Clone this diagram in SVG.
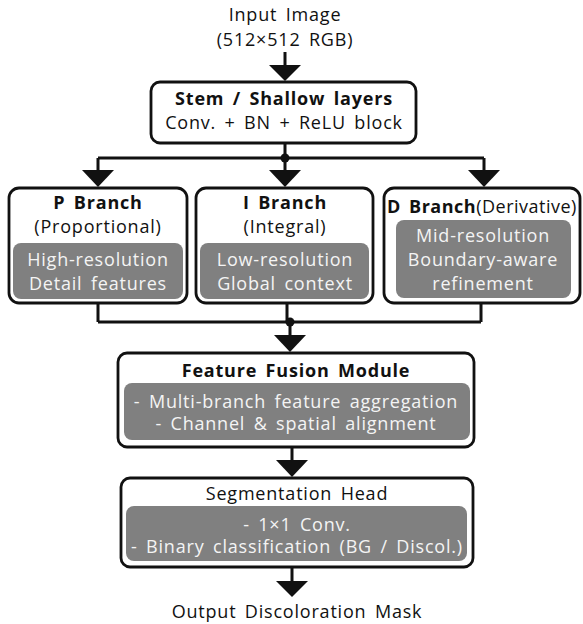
<svg xmlns="http://www.w3.org/2000/svg" width="583" height="624" viewBox="0 0 583 624">
<defs>
<style>
.t{font-family:"Open Sans","Noto Sans","Noto Sans CJK KR",sans-serif;font-size:18px;letter-spacing:0.8px;word-spacing:3px;fill:#111;text-anchor:middle}
.b{font-weight:bold}
.w{fill:#f4f4f4}
.box{fill:#fff;stroke:#111;stroke-width:2.8}
.gray{fill:#808080;stroke:none}
.ln{fill:none;stroke:#111;stroke-width:3}
.hd{fill:#111}
</style>
</defs>
<rect width="583" height="624" fill="#fff"/>
<g id="input">
<text class="t" x="285" y="21">Input Image</text>
<text class="t" x="285" y="46">(512×512 RGB)</text>
</g>
<g id="stem">
<rect class="box" x="151" y="82" width="265" height="61" rx="9"/>
<text class="t b" x="284" y="105">Stem / Shallow layers</text>
<text class="t" x="284" y="129">Conv. + BN + ReLU block</text>
</g>
<g id="pbranch">
<rect class="box" x="9" y="188" width="178" height="115" rx="10"/>
<text class="t b" x="98" y="209">P Branch</text>
<text class="t" x="98" y="233">(Proportional)</text>
<rect class="gray" x="13" y="243" width="170" height="56" rx="8"/>
<text class="t w" x="98" y="266">High-resolution</text>
<text class="t w" x="98" y="290">Detail features</text>
</g>
<g id="ibranch">
<rect class="box" x="196" y="188" width="177" height="115" rx="10"/>
<text class="t b" x="285" y="209">I Branch</text>
<text class="t" x="285" y="233">(Integral)</text>
<rect class="gray" x="200" y="243" width="169" height="56" rx="8"/>
<text class="t w" x="285" y="266">Low-resolution</text>
<text class="t w" x="285" y="290">Global context</text>
</g>
<g id="dbranch">
<rect class="box" x="384" y="188" width="196" height="115" rx="10"/>
<text class="t" x="482" y="213" style="letter-spacing:0.5px"><tspan class="b">D Branch</tspan>(Derivative)</text>
<rect class="gray" x="396" y="220" width="175" height="78" rx="8"/>
<text class="t w" x="483" y="242">Mid-resolution</text>
<text class="t w" x="483" y="266">Boundary-aware</text>
<text class="t w" x="483" y="290">refinement</text>
</g>
<g id="fusion">
<rect class="box" x="118" y="353" width="356" height="94" rx="9"/>
<text class="t b" x="296" y="377">Feature Fusion Module</text>
<rect class="gray" x="124" y="383" width="346" height="57" rx="8"/>
<text class="t w" x="296" y="408">- Multi-branch feature aggregation</text>
<text class="t w" x="296" y="430">- Channel &amp; spatial alignment</text>
</g>
<g id="seghead">
<rect class="box" x="121" y="478" width="352" height="89" rx="9"/>
<text class="t" x="297" y="500">Segmentation Head</text>
<rect class="gray" x="126" y="506" width="341" height="55" rx="8"/>
<text class="t w" x="297" y="531">- 1×1 Conv.</text>
<text class="t w" x="297" y="553">- Binary classification (BG / Discol.)</text>
</g>
<g id="output">
<text class="t" x="297" y="618">Output Discoloration Mask</text>
</g>
<g id="connectors">
<line class="ln" x1="285" y1="52" x2="285" y2="67"/>
<polygon class="hd" points="269,65 301,65 285,81"/>
<path class="ln" d="M285 143V158M98 158H484M98 158V172M285 158V172M484 158V172"/>
<circle class="hd" cx="285" cy="158" r="4.5"/>
<polygon class="hd" points="82,170 114,170 98,187"/>
<polygon class="hd" points="269,170 301,170 285,187"/>
<polygon class="hd" points="468,170 500,170 484,187"/>
<path class="ln" d="M98 303V322M287 303V322M481 303V322M98 322H481M290 322V337"/>
<circle class="hd" cx="290" cy="322" r="4.5"/>
<polygon class="hd" points="274,335 306,335 290,352"/>
<line class="ln" x1="292" y1="447" x2="292" y2="462"/>
<polygon class="hd" points="276,460 308,460 292,477"/>
<line class="ln" x1="292" y1="567" x2="292" y2="583"/>
<polygon class="hd" points="276,581 308,581 292,597"/>
</g>
</svg>
